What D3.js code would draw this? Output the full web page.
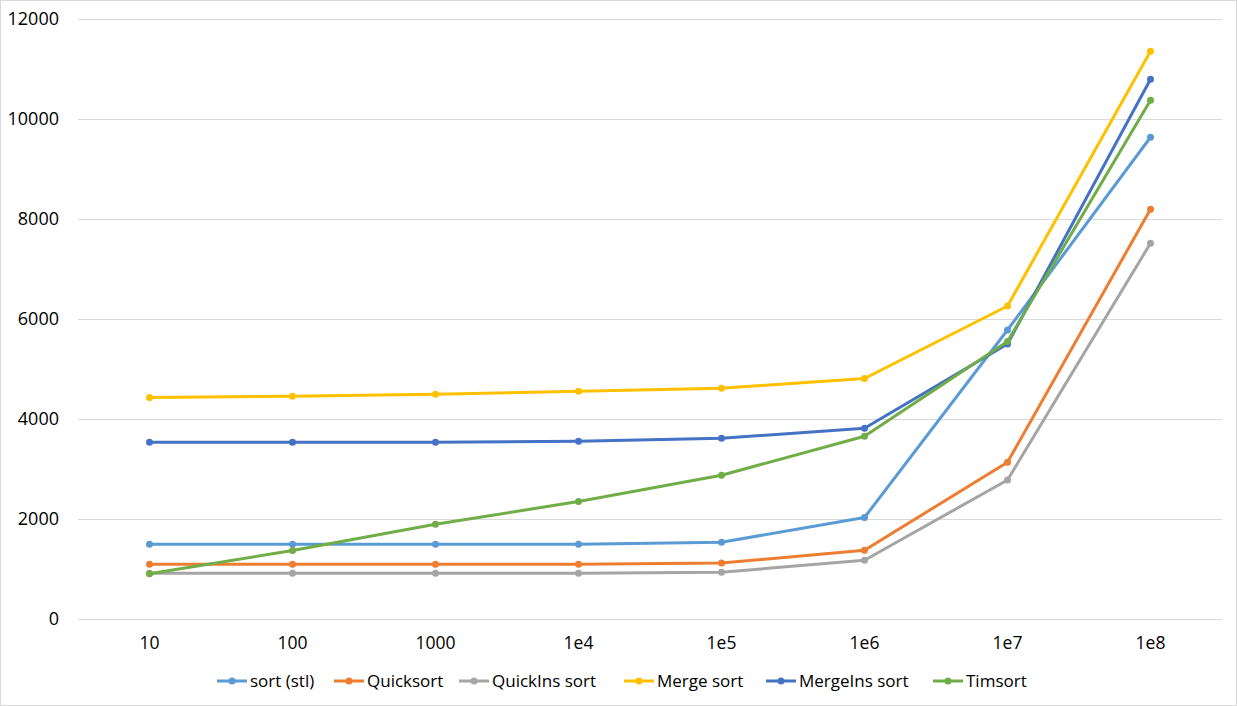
<!DOCTYPE html>
<html>
<head>
<meta charset="utf-8">
<script src="https://cdn.jsdelivr.net/npm/d3@7"></script>
<style>
  body { margin: 0; background: #fff; }
  text { font-family: "Open Sans", sans-serif; fill: #000; }
</style>
</head>
<body>
<div id="chart"></div>
<script>
var svgWidth = 1237;
var svgHeight = 706;

var margin = {
  top: 19,
  right: 15,
  bottom: 87,
  left: 78
};

var width = svgWidth - margin.left - margin.right;
var height = svgHeight - margin.top - margin.bottom;

// categories and tick labels
var sizes = ["10", "100", "1000", "1e4", "1e5", "1e6", "1e7", "1e8"];
var yTicks = [0, 2000, 4000, 6000, 8000, 10000, 12000];

// series values
var seriesNames = ["sort (stl)", "Quicksort", "QuickIns sort", "Merge sort", "MergeIns sort", "Timsort"];
var sortStl = [1495, 1495, 1495, 1495, 1535, 2030, 5780, 9635];
var quicksort = [1095, 1095, 1095, 1095, 1120, 1375, 3135, 8195];
var quickIns = [915, 915, 915, 915, 935, 1175, 2780, 7515];
var mergeSort = [4430, 4455, 4495, 4555, 4615, 4810, 6260, 11355];
var mergeIns = [3535, 3535, 3535, 3555, 3615, 3815, 5500, 10795];
var timsort = [905, 1370, 1895, 2350, 2875, 3655, 5550, 10375];
var colors = ["#5B9BD5", "#ED7D31", "#A5A5A5", "#FFC000", "#4472C4", "#70AD47"];

var allSeries = [sortStl, quicksort, quickIns, mergeSort, mergeIns, timsort];

var svg = d3.select("#chart")
  .append("svg")
  .attr("width", svgWidth)
  .attr("height", svgHeight);

// outer frame
svg.append("rect")
  .attr("x", 0.5)
  .attr("y", 0.5)
  .attr("width", svgWidth - 1)
  .attr("height", svgHeight - 1)
  .attr("fill", "#fff")
  .attr("stroke", "#d9d9d9");

var chartGroup = svg.append("g")
  .attr("transform", `translate(${margin.left}, ${margin.top})`);

var xScale = d3.scaleBand()
  .domain(sizes)
  .range([0, width]);

var yScale = d3.scaleLinear()
  .domain([0, 12000])
  .range([height, 0]);

// gridlines + y labels
var leftAxis = d3.axisLeft(yScale)
  .tickValues(yTicks)
  .tickSize(-width)
  .tickPadding(19)
  .tickFormat(d3.format("d"));

var yAxis = chartGroup.append("g")
  .call(leftAxis);
yAxis.select(".domain").remove();
yAxis.selectAll(".tick line")
  .attr("stroke", "#d9d9d9")
  .attr("stroke-width", 1);
yAxis.selectAll(".tick text")
  .attr("font-size", "18px")
  .attr("font-family", "Open Sans, sans-serif")
  .attr("fill", "#000");

var bottomAxis = d3.axisBottom(xScale)
  .tickSize(0)
  .tickPadding(18);

var xAxis = chartGroup.append("g")
  .attr("transform", `translate(0, ${height})`)
  .call(bottomAxis);
xAxis.select(".domain").remove();
xAxis.selectAll(".tick text")
  .attr("font-size", "17.5px")
  .attr("font-family", "Open Sans, sans-serif")
  .attr("fill", "#000");

// lines and markers
var line = d3.line()
  .x((d, i) => xScale(sizes[i]) + xScale.bandwidth() / 2)
  .y(d => yScale(d));

allSeries.forEach(function(values, s) {
  chartGroup.append("path")
    .datum(values)
    .attr("d", line)
    .attr("fill", "none")
    .attr("stroke", colors[s])
    .attr("stroke-width", 3)
    .attr("stroke-linejoin", "round")
    .attr("stroke-linecap", "round");

  chartGroup.selectAll(null)
    .data(values)
    .enter()
    .append("circle")
    .attr("cx", (d, i) => xScale(sizes[i]) + xScale.bandwidth() / 2)
    .attr("cy", d => yScale(d))
    .attr("r", 3.5)
    .attr("fill", colors[s]);
});

// legend
var legendX = [217, 334, 459, 624, 766, 933];
var legend = svg.append("g")
  .attr("transform", "translate(0, 681)");

seriesNames.forEach(function(name, i) {
  var item = legend.append("g")
    .attr("transform", `translate(${legendX[i]}, 0)`);
  item.append("line")
    .attr("x1", 0)
    .attr("x2", 30)
    .attr("y1", 0)
    .attr("y2", 0)
    .attr("stroke", colors[i])
    .attr("stroke-width", 3);
  item.append("circle")
    .attr("cx", 15)
    .attr("cy", 0)
    .attr("r", 3.5)
    .attr("fill", colors[i]);
  item.append("text")
    .attr("x", 33)
    .attr("y", 0)
    .attr("dy", "0.35em")
    .attr("font-size", "17px")
    .text(name);
});
</script>
</body>
</html>
